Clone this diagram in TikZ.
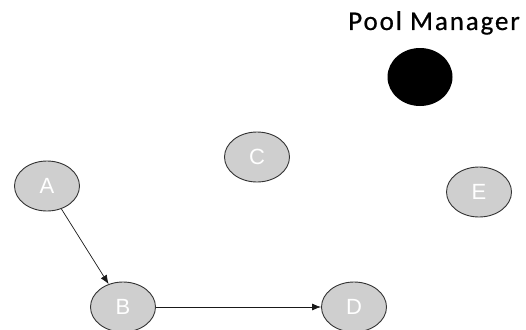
\documentclass[tikz,border=0pt]{standalone}
\usepackage{fontspec}
\setmainfont{Liberation Sans}
\newfontfamily\titlefont[LetterSpace=7,FakeBold=0.6]{Carlito}
\usetikzlibrary{arrows.meta,positioning,shapes.geometric}

\tikzset{
  peer/.style={ellipse,draw=black!80,line width=0.9,fill=black!19,text=white,
    minimum width=65,minimum height=50,inner sep=0,font=\fontsize{22}{22}\selectfont},
  link/.style={draw=black!90,line width=0.7,-{Latex[length=9,width=7]}}
}

\begin{document}
\begin{tikzpicture}[x=1pt,y=-1pt]

\useasboundingbox (0,0) rectangle (526,329);

\node[font=\titlefont\fontsize{27}{27}\selectfont,anchor=base] (title) at (434,30) {Pool Manager};
\node[ellipse,fill=black,minimum width=65,minimum height=58,inner sep=0] (PM) at (420,77) {};

\node[peer] (A) at (47,186) {A};
\node[peer] (B) at (123,307) {B};
\node[peer] (C) at (257,157) {C};
\node[peer] (D) at (354,307) {D};
\node[peer] (E) at (479,192) {E};

\draw[link] (A) -- (B);
\draw[link] (B) -- (D);

\end{tikzpicture}
\end{document}
